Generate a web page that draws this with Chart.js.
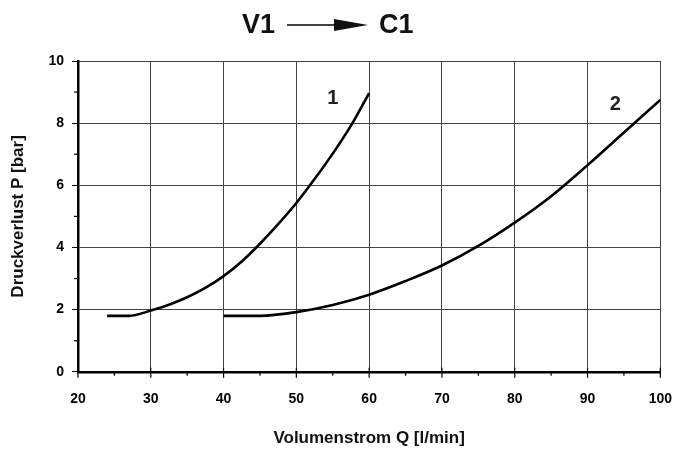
<!DOCTYPE html>
<html>
<head>
<meta charset="utf-8">
<script src="https://cdn.jsdelivr.net/npm/chart.js@4"></script>
<style>
  html, body { margin: 0; padding: 0; background: #fff; overflow: hidden; }
  canvas { display: block; }
</style>
</head>
<body>
<canvas id="chart" width="675" height="450"></canvas>
<script>
// curve 1
const q1 = [24, 27, 30, 32.5, 35, 37.5, 40, 42.5, 45, 47.5, 50, 52.5, 55, 57.5, 60];
const p1 = [1.8, 1.8, 1.97, 2.16, 2.4, 2.7, 3.08, 3.55, 4.12, 4.75, 5.43, 6.2, 7.02, 7.92, 8.97];
// curve 2
const q2 = [40, 45, 50, 55, 60, 65, 70, 75, 80, 85, 90, 95, 100];
const p2 = [1.8, 1.8, 1.92, 2.15, 2.48, 2.92, 3.42, 4.05, 4.8, 5.65, 6.65, 7.7, 8.75];

const curveLabels = ['1', '2'];
const xTicks = [20, 30, 40, 50, 60, 70, 80, 90, 100];
const yTicks = [0, 2, 4, 6, 8, 10];

const font = 'Arial, "Liberation Sans", sans-serif';

const toPoints = (xs, ys) => xs.map((x, i) => ({ x: x, y: ys[i] }));

// title "V1 ---> C1" with drawn arrow
const titlePlugin = {
    id: 'arrowTitle',
    afterDraw(chart) {
        const ctx = chart.ctx;
        ctx.save();
        ctx.fillStyle = '#111';
        ctx.strokeStyle = '#000';
        ctx.font = 'bold 27px ' + font;
        ctx.textBaseline = 'middle';
        const y = 25;
        ctx.textAlign = 'right';
        ctx.fillText('V1', 275, y + 1);
        ctx.lineWidth = 1.6;
        ctx.beginPath();
        ctx.moveTo(287, y);
        ctx.lineTo(345, y);
        ctx.stroke();
        ctx.beginPath();
        ctx.moveTo(334, y - 6);
        ctx.lineTo(368, y);
        ctx.lineTo(334, y + 6);
        ctx.closePath();
        ctx.fill();
        ctx.textAlign = 'left';
        ctx.fillText('C1', 379, y + 1);
        ctx.restore();
    }
};

// x tick marks (major + minor), y minor ticks, curve numbers
const extrasPlugin = {
    id: 'extras',
    afterDraw(chart) {
        const ctx = chart.ctx;
        const xs = chart.scales.x, ys = chart.scales.y;
        const a = chart.chartArea;
        ctx.save();
        ctx.strokeStyle = '#000';
        ctx.lineWidth = 1.2;
        for (let v = 20; v <= 100; v += 5) {
            const px = xs.getPixelForValue(v);
            const major = v % 10 === 0;
            ctx.beginPath();
            ctx.moveTo(px, major ? a.bottom - 4 : a.bottom);
            ctx.lineTo(px, a.bottom + (major ? 6 : 4));
            ctx.stroke();
        }
        for (let v = 1; v < 10; v += 2) {
            const py = ys.getPixelForValue(v);
            ctx.beginPath();
            ctx.moveTo(a.left - 4, py);
            ctx.lineTo(a.left, py);
            ctx.stroke();
        }
        ctx.fillStyle = '#222';
        ctx.font = 'bold 20px ' + font;
        ctx.textAlign = 'center';
        ctx.textBaseline = 'middle';
        ctx.fillText(curveLabels[0], xs.getPixelForValue(55), ys.getPixelForValue(8.8));
        ctx.fillText(curveLabels[1], xs.getPixelForValue(93.8), ys.getPixelForValue(8.6));
        ctx.restore();
    }
};

const lineStyle = {
    borderColor: '#000',
    borderWidth: 2.6,
    pointRadius: 0,
    showLine: true,
    fill: false,
    cubicInterpolationMode: 'monotone'
};

new Chart(document.getElementById('chart'), {
    type: 'scatter',
    data: {
        datasets: [
            Object.assign({ label: curveLabels[0], data: toPoints(q1, p1) }, lineStyle),
            Object.assign({ label: curveLabels[1], data: toPoints(q2, p2) }, lineStyle)
        ]
    },
    options: {
        responsive: false,
        animation: false,
        layout: { padding: { top: 61, right: 5, left: 4, bottom: -3 } },
        plugins: {
            legend: { display: false },
            tooltip: { enabled: false }
        },
        scales: {
            x: {
                type: 'linear',
                min: 20,
                max: 100,
                afterBuildTicks: s => { s.ticks = xTicks.map(v => ({ value: v })); },
                ticks: {
                    color: '#000',
                    font: { family: font, size: 14, weight: 'bold' },
                    padding: 3,
                    maxRotation: 0
                },
                grid: { color: '#444', lineWidth: 1, tickLength: 16, tickColor: 'rgba(0,0,0,0)' },
                border: { color: '#000', width: 2.5 },
                title: {
                    display: true,
                    text: 'Volumenstrom Q [l/min]',
                    color: '#111',
                    font: { family: font, size: 17, weight: 'bold' },
                    padding: { top: 18 }
                }
            },
            y: {
                min: 0,
                max: 10,
                afterBuildTicks: s => { s.ticks = yTicks.map(v => ({ value: v })); },
                ticks: {
                    color: '#000',
                    font: { family: font, size: 14, weight: 'bold' },
                    padding: 8
                },
                grid: { color: '#444', lineWidth: 1, tickLength: 6, tickColor: '#000' },
                border: { color: '#000', width: 2.5 },
                title: {
                    display: true,
                    text: 'Druckverlust P [bar]',
                    color: '#111',
                    font: { family: font, size: 17, weight: 'bold' },
                    padding: { bottom: 12 }
                }
            }
        }
    },
    plugins: [titlePlugin, extrasPlugin]
});
</script>
</body>
</html>
